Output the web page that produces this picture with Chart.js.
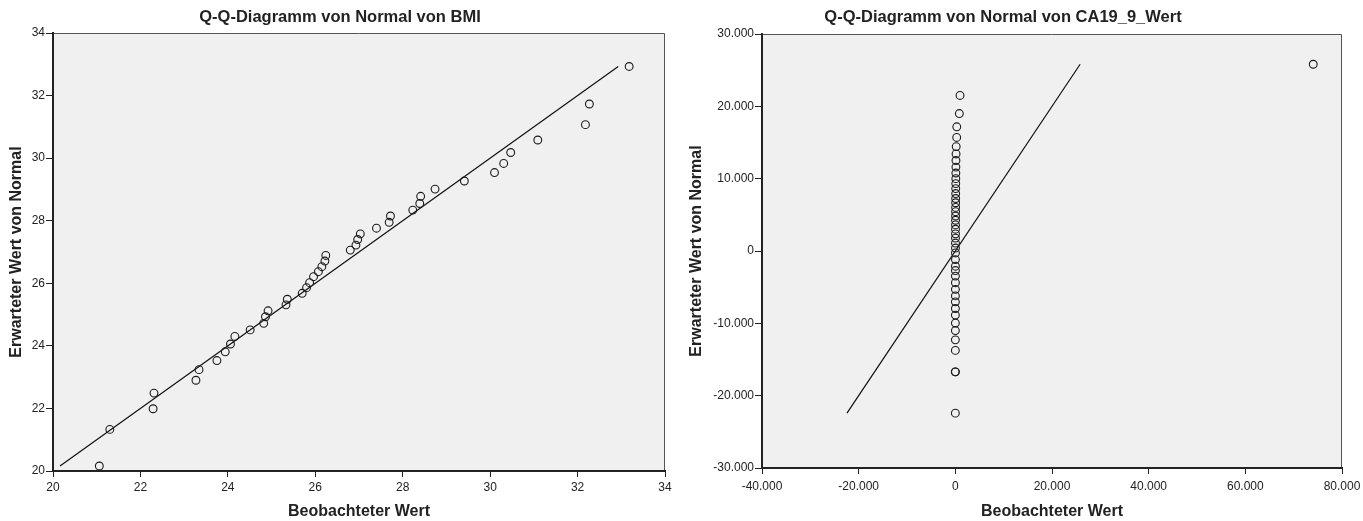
<!DOCTYPE html>
<html>
<head>
<meta charset="utf-8">
<script src="https://cdn.jsdelivr.net/npm/chart.js@4.4.0/dist/chart.umd.min.js"></script>
<style>
  body { margin: 0; width: 1363px; height: 521px; overflow: hidden; background: #fff; position: relative; }
  .box { position: absolute; top: 0; height: 521px; }
</style>
</head>
<body>
<div class="box" style="left:0; width:680px;"><canvas id="bmiChart"></canvas></div>
<div class="box" style="left:680px; width:720px;"><canvas id="caChart"></canvas></div>
<script>
// BMI: beobachtet (x) gegen erwartet (y)
const bmiObserved = [21.06, 21.30, 22.29, 22.31, 23.27, 23.34, 23.75, 23.94, 24.06, 24.16, 24.51, 24.82, 24.86, 24.92,
  25.33, 25.36, 25.70, 25.80, 25.87, 25.96, 26.07, 26.15, 26.22, 26.24, 26.80, 26.93, 26.97, 27.03, 27.40,
  27.69, 27.72, 28.23, 28.39, 28.41, 28.74, 29.41, 30.10, 30.31, 30.47, 31.09, 32.18, 32.27, 33.18];
const bmiExpected = [20.16, 21.33, 21.99, 22.49, 22.90, 23.24, 23.53, 23.81, 24.06, 24.30, 24.51, 24.72, 24.93, 25.12,
  25.31, 25.49, 25.68, 25.86, 26.02, 26.21, 26.37, 26.53, 26.71, 26.89, 27.06, 27.22, 27.40, 27.58, 27.76,
  27.95, 28.15, 28.34, 28.55, 28.78, 29.01, 29.27, 29.54, 29.83, 30.18, 30.58, 31.07, 31.73, 32.93];
const bmiLine = [20.16, 32.93];
const bmiTicks = [20, 22, 24, 26, 28, 30, 32, 34];

// CA19-9
const caObserved = [970, 830, 300, 280, 180, 150, 130, 120, 110, 100, 90, 80, 75, 70, 65, 60, 55, 50, 45, 40,
  37, 35, 32, 30, 28, 25, 22, 20, 18, 16, 15, 14, 12, 11, 10, 9, 8, 7, 6, 5, 3, 3, 2, 74050];
const caExpected = [21507, 19000, 17170, 15700, 14430, 13420, 12510, 11600, 10780, 10000, 9315, 8630, 7945, 7260,
  6670, 6030, 5430, 4840, 4250, 3610, 3010, 2370, 1780, 1100, 410, -270, -1190, -2100, -2700, -3470, -4380,
  -5300, -6210, -7030, -7950, -8860, -9960, -11000, -12280, -13740, -16710, -16710, -22420, 25820];
const caLine = [-22420, 25820];
const caXTicks = [-40000, -20000, 0, 20000, 40000, 60000, 80000];
const caYTicks = [-30000, -20000, -10000, 0, 10000, 20000, 30000];

const FONT = "'Liberation Sans', Arial, sans-serif";

function fmtDe(v) {
  const s = Math.abs(v).toString().replace(/\B(?=(\d{3})+(?!\d))/g, '.');
  return (v < 0 ? '-' : '') + s;
}

// grauer Hintergrund, dünner Rahmen oben/rechts, Überschrift
const plotFrame = {
  id: 'plotFrame',
  beforeDraw(chart, args, opts) {
    const { ctx, chartArea: a } = chart;
    ctx.save();
    ctx.fillStyle = '#f0f0f0';
    ctx.fillRect(a.left, a.top, a.right - a.left, a.bottom - a.top);
    ctx.strokeStyle = '#555';
    ctx.lineWidth = 1;
    ctx.beginPath();
    ctx.moveTo(a.left, a.top + 0.5);
    ctx.lineTo(a.right - 0.5, a.top + 0.5);
    ctx.lineTo(a.right - 0.5, a.bottom);
    ctx.stroke();
    ctx.fillStyle = '#222';
    ctx.font = 'bold 16.5px ' + FONT;
    ctx.textAlign = 'center';
    ctx.textBaseline = 'middle';
    ctx.fillText(opts.text, opts.x, 17);
    ctx.restore();
  }
};

function makeQQ(canvasId, cfg) {
  const pts = cfg.obs.map((x, i) => ({ x: x, y: cfg.exp[i] }));
  const line = cfg.line.map(v => ({ x: v, y: v }));
  const axis = (ticks, fmt, tickLen, pad, fit) => ({
    type: 'linear',
    min: ticks[0],
    max: ticks[ticks.length - 1],
    afterBuildTicks: s => { s.ticks = ticks.map(v => ({ value: v })); },
    afterFit: fit,
    ticks: {
      color: '#222',
      font: { family: FONT, size: 12 },
      padding: pad,
      callback: fmt
    },
    grid: { drawOnChartArea: false, drawTicks: true, tickLength: tickLen, color: '#222', lineWidth: 1 },
    border: { display: true, color: '#222', width: 2 }
  });
  const xAxis = axis(cfg.xTicks, cfg.fmt, 6, cfg.xPad, s => { s.height = cfg.xHeight; });
  xAxis.title = { display: true, text: 'Beobachteter Wert', color: '#222',
    font: { family: FONT, size: 16, weight: 'bold', lineHeight: 1 }, padding: { top: 0, bottom: 1 } };
  const yAxis = axis(cfg.yTicks, cfg.fmt, 7, 1, s => { s.width = cfg.yWidth; });
  yAxis.title = { display: true, text: 'Erwarteter Wert von Normal', color: '#222',
    font: { family: FONT, size: 16, weight: 'bold', lineHeight: 1 }, padding: { top: 9, bottom: 0 } };

  return new Chart(document.getElementById(canvasId), {
    type: 'scatter',
    data: {
      datasets: [
        {
          data: pts,
          pointStyle: 'circle',
          pointRadius: 3.9,
          pointBorderWidth: 1.1,
          pointBorderColor: '#1a1a1a',
          pointBackgroundColor: 'rgba(0,0,0,0)'
        },
        {
          data: line,
          showLine: true,
          pointRadius: 0,
          borderColor: '#111',
          borderWidth: 1.2
        }
      ]
    },
    options: {
      responsive: true,
      maintainAspectRatio: false,
      animation: false,
      devicePixelRatio: 1,
      layout: { padding: { left: 0, right: cfg.padRight, top: cfg.top, bottom: 0 } },
      plugins: {
        legend: { display: false },
        tooltip: { enabled: false },
        title: { display: false },
        plotFrame: { text: cfg.title, x: cfg.titleX }
      },
      scales: { x: xAxis, y: yAxis }
    },
    plugins: [plotFrame]
  });
}

makeQQ('bmiChart', {
  title: 'Q-Q-Diagramm von Normal von BMI',
  obs: bmiObserved, exp: bmiExpected, line: bmiLine,
  xTicks: bmiTicks, yTicks: bmiTicks, fmt: v => String(v),
  xHeight: 50, yWidth: 53, padRight: 15, top: 33, xPad: 3, titleX: 340
});

makeQQ('caChart', {
  title: 'Q-Q-Diagramm von Normal von CA19_9_Wert',
  obs: caObserved, exp: caExpected, line: caLine,
  xTicks: caXTicks, yTicks: caYTicks, fmt: fmtDe,
  xHeight: 53, yWidth: 82, padRight: 58, top: 34, xPad: 5, titleX: 323
});
</script>
</body>
</html>
